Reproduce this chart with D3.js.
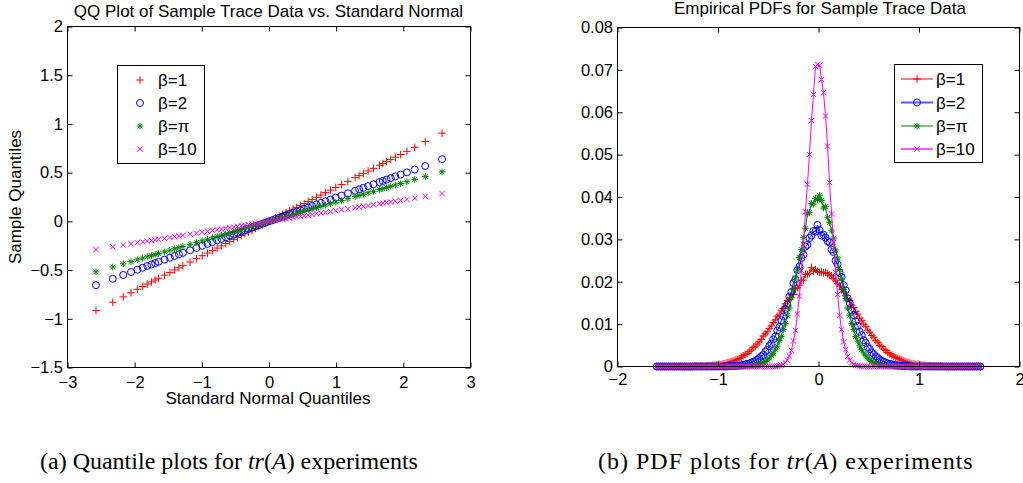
<!DOCTYPE html>
<html>
<head>
<meta charset="utf-8">
<script src="https://cdn.jsdelivr.net/npm/d3@7"></script>
<style>
body { margin: 0; background: #fff; }
svg text { font-family: "Liberation Sans", Arial, sans-serif; }
svg text.caption { font-family: "Liberation Serif", "Times New Roman", serif; }
</style>
</head>
<body>
<svg id="fig" width="1023" height="483"></svg>
<script>
// ---- left panel: QQ plot data ----
var qqX = [-2.576,-2.326,-2.170,-2.054,-1.960,-1.881,-1.812,-1.751,-1.695,-1.645,-1.555,-1.476,-1.405,-1.341,-1.282,-1.175,-1.080,-0.994,-0.915,-0.842,-0.772,-0.706,-0.643,-0.583,-0.524,-0.468,-0.412,-0.358,-0.305,-0.253,-0.202,-0.151,-0.100,-0.050,
  0,
  0.050,0.100,0.151,0.202,0.253,0.305,0.358,0.412,0.468,0.524,0.583,0.643,0.706,0.772,0.842,0.915,0.994,1.080,1.175,1.282,1.341,1.405,1.476,1.555,1.645,1.695,1.751,1.812,1.881,1.960,2.054,2.170,2.326,2.576];

var qqBeta1 = [-0.915,-0.830,-0.775,-0.733,-0.697,-0.668,-0.643,-0.622,-0.602,-0.584,-0.552,-0.524,-0.499,-0.476,-0.455,-0.417,-0.383,-0.353,-0.325,-0.299,-0.274,-0.251,-0.228,-0.207,-0.186,-0.166,-0.146,-0.127,-0.108,-0.090,-0.072,-0.054,-0.036,-0.018,
  0,
  0.018,0.035,0.053,0.071,0.089,0.107,0.125,0.144,0.164,0.183,0.204,0.225,0.247,0.270,0.295,0.320,0.348,0.378,0.411,0.449,0.469,0.492,0.517,0.544,0.576,0.593,0.613,0.634,0.658,0.686,0.719,0.760,0.820,0.905];

var qqBeta2 = [-0.655,-0.590,-0.550,-0.520,-0.496,-0.476,-0.458,-0.443,-0.429,-0.416,-0.393,-0.373,-0.355,-0.339,-0.324,-0.297,-0.273,-0.251,-0.231,-0.213,-0.195,-0.179,-0.163,-0.147,-0.133,-0.118,-0.104,-0.091,-0.077,-0.064,-0.051,-0.038,-0.025,-0.013,
  0,
  0.012,0.025,0.037,0.049,0.062,0.075,0.088,0.101,0.115,0.128,0.143,0.158,0.173,0.189,0.206,0.224,0.244,0.265,0.288,0.314,0.329,0.344,0.362,0.381,0.403,0.415,0.429,0.444,0.461,0.480,0.503,0.532,0.568,0.638];

var qqBetaPi = [-0.518,-0.468,-0.436,-0.413,-0.394,-0.378,-0.364,-0.352,-0.341,-0.331,-0.313,-0.297,-0.282,-0.270,-0.258,-0.236,-0.217,-0.200,-0.184,-0.169,-0.155,-0.142,-0.129,-0.117,-0.105,-0.094,-0.083,-0.072,-0.061,-0.051,-0.041,-0.030,-0.020,-0.010,
  0,
  0.010,0.020,0.030,0.040,0.050,0.060,0.071,0.082,0.093,0.104,0.115,0.127,0.140,0.153,0.167,0.181,0.197,0.214,0.233,0.254,0.266,0.278,0.292,0.308,0.326,0.336,0.347,0.359,0.372,0.388,0.407,0.430,0.461,0.508];

var qqBeta10 = [-0.289,-0.261,-0.243,-0.230,-0.220,-0.211,-0.203,-0.196,-0.190,-0.184,-0.174,-0.165,-0.157,-0.150,-0.144,-0.132,-0.121,-0.111,-0.102,-0.094,-0.086,-0.079,-0.072,-0.065,-0.059,-0.052,-0.046,-0.040,-0.034,-0.028,-0.023,-0.017,-0.011,-0.006,
  0,
  0.006,0.011,0.017,0.022,0.028,0.034,0.039,0.045,0.051,0.058,0.064,0.071,0.078,0.085,0.093,0.101,0.109,0.119,0.129,0.141,0.148,0.155,0.162,0.171,0.181,0.186,0.193,0.199,0.207,0.216,0.226,0.239,0.256,0.286];

var qqXTicks = [-3, -2, -1, 0, 1, 2, 3];
var qqYTicks = [-1.5, -1, -0.5, 0, 0.5, 1, 1.5, 2];

// ---- right panel: empirical PDF data (bin centres, probability per bin) ----
var binX = [
  -1.61,-1.59,-1.57,-1.55,-1.53,-1.51,-1.49,-1.47,-1.45,
  -1.43,-1.41,-1.39,-1.37,-1.35,-1.33,-1.31,-1.29,-1.27,
  -1.25,-1.23,-1.21,-1.19,-1.17,-1.15,-1.13,-1.11,-1.09,
  -1.07,-1.05,-1.03,-1.01,-0.99,-0.97,-0.95,-0.93,-0.91,
  -0.89,-0.87,-0.85,-0.83,-0.81,-0.79,-0.77,-0.75,-0.73,
  -0.71,-0.69,-0.67,-0.65,-0.63,-0.61,-0.59,-0.57,-0.55,
  -0.53,-0.51,-0.49,-0.47,-0.45,-0.43,-0.41,-0.39,-0.37,
  -0.35,-0.33,-0.31,-0.29,-0.27,-0.25,-0.23,-0.21,-0.19,
  -0.17,-0.15,-0.13,-0.11,-0.09,-0.07,-0.05,-0.03,-0.01,
  0.01,0.03,0.05,0.07,0.09,0.11,0.13,0.15,0.17,
  0.19,0.21,0.23,0.25,0.27,0.29,0.31,0.33,0.35,
  0.37,0.39,0.41,0.43,0.45,0.47,0.49,0.51,0.53,
  0.55,0.57,0.59,0.61,0.63,0.65,0.67,0.69,0.71,
  0.73,0.75,0.77,0.79,0.81,0.83,0.85,0.87,0.89,
  0.91,0.93,0.95,0.97,0.99,1.01,1.03,1.05,1.07,
  1.09,1.11,1.13,1.15,1.17,1.19,1.21,1.23,1.25,
  1.27,1.29,1.31,1.33,1.35,1.37,1.39,1.41,1.43,
  1.45,1.47,1.49,1.51,1.53,1.55,1.57,1.59,1.61];

var pdfBeta1 = [
  0,0,0,0,0,0,0,0,0,
  0,0,0,0,0,0,0,0,0,
  0,0.0001,0.0001,0.0001,0.0001,0.0001,0.0001,0.0002,0.0002,
  0.0002,0.0003,0.0003,0.0004,0.0005,0.0005,0.0006,0.0007,0.0009,
  0.0010,0.0011,0.0013,0.0015,0.0017,0.0019,0.0022,0.0025,0.0028,
  0.0031,0.0035,0.0039,0.0045,0.0048,0.0053,0.0058,0.0064,0.0072,
  0.0077,0.0082,0.0090,0.0096,0.0104,0.0110,0.0119,0.0122,0.0133,
  0.0137,0.0148,0.0156,0.0159,0.0169,0.0170,0.0184,0.0186,0.0192,
  0.0203,0.0204,0.0218,0.0217,0.0220,0.0234,0.0225,0.0229,0.0224,
  0.0222,0.0223,0.0221,0.0222,0.0219,0.0216,0.0214,0.0207,0.0202,
  0.0196,0.0190,0.0181,0.0176,0.0167,0.0160,0.0155,0.0145,0.0139,
  0.0130,0.0124,0.0114,0.0109,0.0100,0.0095,0.0086,0.0081,0.0073,
  0.0069,0.0061,0.0057,0.0050,0.0047,0.0041,0.0038,0.0033,0.0030,
  0.0027,0.0024,0.0021,0.0019,0.0017,0.0015,0.0013,0.0011,0.0010,
  0.0008,0.0007,0.0006,0.0005,0.0005,0.0004,0.0003,0.0003,0.0002,
  0.0002,0.0002,0.0001,0.0001,0.0001,0.0001,0.0001,0.0001,0,
  0,0,0,0,0,0,0,0,0,
  0,0,0,0,0,0,0,0,0];

var pdfBeta2 = [
  0,0,0,0,0,0,0,0,0,
  0,0,0,0,0,0,0,0,0,
  0,0,0,0,0,0,0,0,0,
  0,0,0,0,0,0,0,0,0,
  0.0001,0.0001,0.0001,0.0001,0.0002,0.0002,0.0003,0.0004,0.0005,
  0.0006,0.0007,0.0009,0.0011,0.0013,0.0016,0.0020,0.0024,0.0027,
  0.0035,0.0039,0.0048,0.0054,0.0064,0.0071,0.0085,0.0093,0.0109,
  0.0118,0.0136,0.0146,0.0165,0.0176,0.0197,0.0206,0.0227,0.0236,
  0.0256,0.0264,0.0283,0.0287,0.0303,0.0309,0.0320,0.0318,0.0334,
  0.0322,0.0309,0.0311,0.0304,0.0296,0.0293,0.0276,0.0270,0.0250,
  0.0241,0.0221,0.0211,0.0192,0.0180,0.0161,0.0150,0.0132,0.0121,
  0.0106,0.0096,0.0082,0.0074,0.0062,0.0056,0.0046,0.0041,0.0033,
  0.0029,0.0024,0.0020,0.0016,0.0013,0.0011,0.0009,0.0007,0.0006,
  0.0005,0.0004,0.0003,0.0002,0.0002,0.0001,0.0001,0.0001,0.0001,
  0,0,0,0,0,0,0,0,0,
  0,0,0,0,0,0,0,0,0,
  0,0,0,0,0,0,0,0,0,
  0,0,0,0,0,0,0,0,0];

var pdfBetaPi = [
  0,0,0,0,0,0,0,0,0,
  0,0,0,0,0,0,0,0,0,
  0,0,0,0,0,0,0,0,0,
  0,0,0,0,0,0,0,0,0,
  0,0,0,0,0,0,0,0,0.0001,
  0.0001,0.0001,0.0002,0.0002,0.0003,0.0004,0.0005,0.0007,0.0009,
  0.0012,0.0015,0.0020,0.0026,0.0031,0.0041,0.0048,0.0061,0.0071,
  0.0087,0.0101,0.0121,0.0138,0.0162,0.0181,0.0209,0.0228,0.0257,
  0.0276,0.0305,0.0326,0.0360,0.0364,0.0385,0.0383,0.0397,0.0394,
  0.0404,0.0392,0.0374,0.0377,0.0352,0.0340,0.0320,0.0303,0.0275,
  0.0256,0.0229,0.0207,0.0182,0.0161,0.0138,0.0121,0.0101,0.0087,
  0.0071,0.0060,0.0049,0.0040,0.0032,0.0025,0.0020,0.0015,0.0012,
  0.0009,0.0007,0.0005,0.0004,0.0003,0.0002,0.0002,0.0001,0.0001,
  0.0001,0,0,0,0,0,0,0,0,
  0,0,0,0,0,0,0,0,0,
  0,0,0,0,0,0,0,0,0,
  0,0,0,0,0,0,0,0,0,
  0,0,0,0,0,0,0,0,0];

var pdfBeta10 = [
  0,0,0,0,0,0,0,0,0,
  0,0,0,0,0,0,0,0,0,
  0,0,0,0,0,0,0,0,0,
  0,0,0,0,0,0,0,0,0,
  0,0,0,0,0,0,0,0,0,
  0,0,0,0,0,0,0,0,0,
  0,0,0,0,0,0,0.0001,0.0002,0.0003,
  0.0005,0.0009,0.0015,0.0025,0.0038,0.0060,0.0085,0.0124,0.0166,
  0.0227,0.0288,0.0365,0.0430,0.0500,0.0580,0.0642,0.0708,0.0712,
  0.0711,0.0677,0.0646,0.0591,0.0520,0.0434,0.0360,0.0293,0.0222,
  0.0170,0.0121,0.0087,0.0058,0.0040,0.0024,0.0015,0.0009,0.0005,
  0.0003,0.0002,0.0001,0,0,0,0,0,0,
  0,0,0,0,0,0,0,0,0,
  0,0,0,0,0,0,0,0,0,
  0,0,0,0,0,0,0,0,0,
  0,0,0,0,0,0,0,0,0,
  0,0,0,0,0,0,0,0,0,
  0,0,0,0,0,0,0,0,0];

var pdfXTicks = [-2, -1, 0, 1, 2];
var pdfYTicks = [0, 0.01, 0.02, 0.03, 0.04, 0.05, 0.06, 0.07, 0.08];

var seriesNames = ["\u03b2=1", "\u03b2=2", "\u03b2=\u03c0", "\u03b2=10"];
var seriesColors = ["#ff0000", "#0000ff", "#008000", "#ff00ff"];
var seriesMarkers = ["plus", "circle", "star", "cross"];

var svg = d3.select("#fig");
var fmt = d3.format("~g");

function markerPath(type, s) {
    if (type === "plus") return "M" + (-s) + ",0H" + s + "M0," + (-s) + "V" + s;
    if (type === "cross") return "M" + (-s) + "," + (-s) + "L" + s + "," + s + "M" + (-s) + "," + s + "L" + s + "," + (-s);
    if (type === "star") {
        var d = s * 0.72;
        return "M" + (-s) + ",0H" + s + "M0," + (-s) + "V" + s +
            "M" + (-d) + "," + (-d) + "L" + d + "," + d + "M" + (-d) + "," + d + "L" + d + "," + (-d);
    }
    return "M" + s + ",0A" + s + "," + s + " 0 1,1 " + (-s) + ",0A" + s + "," + s + " 0 1,1 " + s + ",0Z";
}

var markerSize = { plus: 3.8, circle: 3.5, star: 3.3, cross: 2.7 };

function drawMarkers(g, pts, xs, ys, type, color) {
    g.append("g").selectAll("path")
        .data(pts)
        .enter().append("path")
        .attr("transform", function(d) { return "translate(" + xs(d[0]) + "," + ys(d[1]) + ")"; })
        .attr("d", markerPath(type, markerSize[type]))
        .attr("fill", "none")
        .attr("stroke", color)
        .attr("stroke-width", 1);
}

function drawFrame(g, xs, ys, xTicks, yTicks, xPad) {
    var x0 = xs.range()[0], x1 = xs.range()[1], y0 = ys.range()[0], y1 = ys.range()[1];
    var axes = [
        g.append("g").attr("transform", "translate(0," + y0 + ")")
            .call(d3.axisBottom(xs).tickValues(xTicks).tickSize(-5).tickPadding(xPad).tickFormat(fmt)),
        g.append("g").attr("transform", "translate(0," + y1 + ")")
            .call(d3.axisTop(xs).tickValues(xTicks).tickSize(-5).tickFormat("")),
        g.append("g").attr("transform", "translate(" + x0 + ",0)")
            .call(d3.axisLeft(ys).tickValues(yTicks).tickSize(-5).tickPadding(4.5).tickFormat(fmt)),
        g.append("g").attr("transform", "translate(" + x1 + ",0)")
            .call(d3.axisRight(ys).tickValues(yTicks).tickSize(-5).tickFormat(""))
    ];
    axes.forEach(function(a) {
        a.attr("font-size", 16.5);
        a.select(".domain").remove();
        a.selectAll("line").attr("stroke", "#000");
        a.selectAll("text").attr("fill", "#000");
    });
    g.append("rect")
        .attr("x", x0).attr("y", y1)
        .attr("width", x1 - x0).attr("height", y0 - y1)
        .attr("fill", "none").attr("stroke", "#000").attr("stroke-width", 1);
}

// ---------- left: QQ plot ----------
var qx = d3.scaleLinear().domain([-3, 3]).range([67.5, 470.5]);
var qy = d3.scaleLinear().domain([-1.5, 2]).range([367.5, 26.5]);
var left = svg.append("g");

var qqSeries = [qqBeta1, qqBeta2, qqBetaPi, qqBeta10];
qqSeries.forEach(function(ys, i) {
    drawMarkers(left, d3.zip(qqX, ys), qx, qy, seriesMarkers[i], seriesColors[i]);
});
drawFrame(left, qx, qy, qqXTicks, qqYTicks, 9);

left.append("text").attr("x", 268.5).attr("y", 17).attr("text-anchor", "middle")
    .attr("font-size", 17).text("QQ Plot of Sample Trace Data vs. Standard Normal");
left.append("text").attr("x", 268).attr("y", 404).attr("text-anchor", "middle")
    .attr("font-size", 17).text("Standard Normal Quantiles");
left.append("text").attr("transform", "translate(21,197) rotate(-90)").attr("text-anchor", "middle")
    .attr("font-size", 17).text("Sample Quantiles");

var qLeg = left.append("g");
qLeg.append("rect").attr("x", 117.5).attr("y", 65.5).attr("width", 87).attr("height", 98)
    .attr("fill", "#fff").attr("stroke", "#000");
seriesNames.forEach(function(name, i) {
    var yy = [80, 103, 126, 149][i];
    qLeg.append("path").attr("transform", "translate(140," + yy + ")")
        .attr("d", markerPath(seriesMarkers[i], markerSize[seriesMarkers[i]]))
        .attr("fill", "none").attr("stroke", seriesColors[i]);
    qLeg.append("text").attr("x", 158).attr("y", yy).attr("dy", "0.36em")
        .attr("font-size", 17).text(name);
});

// ---------- right: empirical PDFs ----------
var px = d3.scaleLinear().domain([-2, 2]).range([617.5, 1019.5]);
var py = d3.scaleLinear().domain([0, 0.08]).range([366.5, 27.5]);
var right = svg.append("g");

var pdfSeries = [pdfBeta1, pdfBeta2, pdfBetaPi, pdfBeta10];
var pdfLine = d3.line().x(function(d) { return px(d[0]); }).y(function(d) { return py(d[1]); });
pdfSeries.forEach(function(ys, i) {
    var pts = d3.zip(binX, ys);
    right.append("path").datum(pts)
        .attr("d", pdfLine)
        .attr("fill", "none")
        .attr("stroke", seriesColors[i])
        .attr("stroke-width", 1);
    drawMarkers(right, pts, px, py, seriesMarkers[i], seriesColors[i]);
});
drawFrame(right, px, py, pdfXTicks, pdfYTicks, 7);

right.append("text").attr("x", 820).attr("y", 14).attr("text-anchor", "middle")
    .attr("font-size", 17).text("Empirical PDFs for Sample Trace Data");

var pLeg = right.append("g");
pLeg.append("rect").attr("x", 894.5).attr("y", 64.5).attr("width", 88).attr("height", 98)
    .attr("fill", "#fff").attr("stroke", "#000");
seriesNames.forEach(function(name, i) {
    var yy = [79, 102.5, 126, 149][i];
    pLeg.append("line").attr("x1", 901).attr("x2", 933).attr("y1", yy).attr("y2", yy)
        .attr("stroke", seriesColors[i]).attr("stroke-width", i % 2 ? 2 : 1)
        .attr("stroke-opacity", i % 2 ? 0.65 : 1);
    pLeg.append("path").attr("transform", "translate(917," + yy + ")")
        .attr("d", markerPath(seriesMarkers[i], markerSize[seriesMarkers[i]]))
        .attr("fill", "none").attr("stroke", seriesColors[i]);
    pLeg.append("text").attr("x", 936).attr("y", yy).attr("dy", "0.36em")
        .attr("font-size", 17).text(name);
});

// ---------- sub-figure captions ----------
function caption(x, spacing, label) {
    var t = svg.append("text").attr("class", "caption").attr("x", x).attr("y", 469)
        .attr("font-size", 24).style("letter-spacing", spacing + "px");
    t.append("tspan").text(label + " plots for ");
    t.append("tspan").attr("font-style", "italic").text("tr");
    t.append("tspan").text("(");
    t.append("tspan").attr("font-style", "italic").text("A");
    t.append("tspan").text(") experiments");
}
caption(40, 0, "(a) Quantile");
caption(598, 1, "(b) PDF");
</script>
</body>
</html>
